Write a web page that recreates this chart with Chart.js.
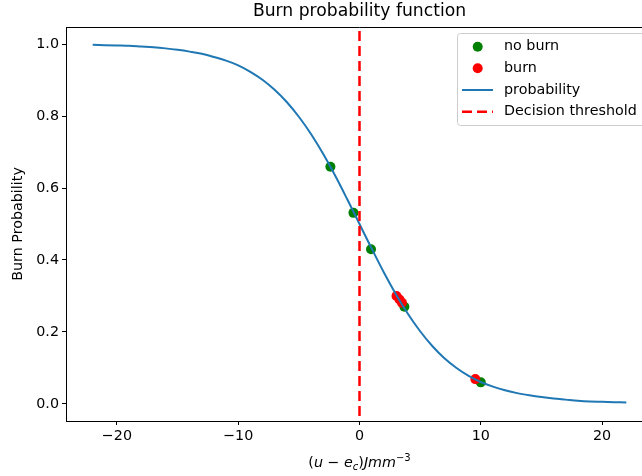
<!DOCTYPE html>
<html>
<head>
<meta charset="utf-8">
<script src="https://cdn.jsdelivr.net/npm/chart.js@4"></script>
<style>
  html, body { margin: 0; padding: 0; background: #fff; overflow: hidden; }
  canvas { display: block; }
</style>
</head>
<body>
<canvas id="burnChart" width="700" height="476"></canvas>
<script>
// values
const curveX = [-22, -21, -20, -19, -18, -17, -16, -15, -14, -13, -12, -11, -10, -9, -8, -7, -6, -5, -4, -3, -2, -1,
                0, 1, 2, 3, 4, 5, 6, 7, 8, 9, 10, 11, 12, 13, 14, 15, 16, 17, 18, 19, 20, 21, 22];
const curveY = [0.998, 0.997, 0.996, 0.995, 0.993, 0.991, 0.988, 0.984, 0.979, 0.973, 0.964, 0.954, 0.941, 0.923,
                0.901, 0.873, 0.839, 0.798, 0.750, 0.695, 0.634, 0.568, 0.500, 0.432, 0.366, 0.305, 0.250, 0.202,
                0.161, 0.127, 0.100, 0.078, 0.061, 0.048, 0.038, 0.030, 0.024, 0.019, 0.015, 0.012, 0.009, 0.007,
                0.006, 0.005, 0.004];

const noBurnX = [-2.4, -0.5, 0.95, 3.7, 10.0];
const noBurnY = [0.659, 0.531, 0.430, 0.270, 0.060];

const burnX = [3.05, 3.3, 3.5, 9.55];
const burnY = [0.300, 0.290, 0.281, 0.069];

const thresholdX = 0;

const xTicks = [-20, -10, 0, 10, 20];
const yTicks = [0.0, 0.2, 0.4, 0.6, 0.8, 1.0];

const FONT = '"DejaVu Sans", sans-serif';
const TICK_SIZE = 14.3;

const toPoints = (xs, ys) => xs.map((x, i) => ({ x: x, y: ys[i] }));

// 제목, 축 제목, 위쪽 테두리, 범례
const decorPlugin = {
    id: 'decor',
    afterDraw(chart) {
        const ctx = chart.ctx;
        const area = chart.chartArea;
        const cx = (area.left + area.right) / 2;

        ctx.save();
        ctx.fillStyle = '#000';

        // top + right spines
        ctx.strokeStyle = '#000';
        ctx.lineWidth = 1;
        ctx.beginPath();
        ctx.moveTo(area.left, area.top + 0.5);
        ctx.lineTo(area.right - 0.5, area.top + 0.5);
        ctx.lineTo(area.right - 0.5, area.bottom);
        ctx.stroke();

        // title
        ctx.font = '17.2px ' + FONT;
        ctx.textAlign = 'center';
        ctx.textBaseline = 'middle';
        ctx.fillText('Burn probability function', cx, 12);

        // y label
        ctx.save();
        ctx.translate(18, (area.top + area.bottom) / 2);
        ctx.rotate(-Math.PI / 2);
        ctx.font = TICK_SIZE + 'px ' + FONT;
        ctx.fillText('Burn Probability', 0, 0);
        ctx.restore();

        // x label, mathtext style
        const big = TICK_SIZE;
        const small = TICK_SIZE * 0.7;
        const parts = [
            { t: '(', it: false, s: big, dy: 0 },
            { t: 'u', it: true, s: big, dy: 0 },
            { t: ' \u2212 ', it: false, s: big, dy: 0 },
            { t: 'e', it: true, s: big, dy: 0 },
            { t: 'c', it: true, s: small, dy: 3 },
            { t: ')', it: false, s: big, dy: 0 },
            { t: 'J', it: true, s: big, dy: 0 },
            { t: 'mm', it: true, s: big, dy: 0 },
            { t: '\u22123', it: false, s: small, dy: -6 }
        ];
        const fontOf = p => (p.it ? 'oblique ' : '') + p.s + 'px ' + FONT;
        let total = 0;
        parts.forEach(p => { ctx.font = fontOf(p); p.w = ctx.measureText(p.t).width; total += p.w; });
        let x = cx - total / 2;
        ctx.textAlign = 'left';
        ctx.textBaseline = 'alphabetic';
        parts.forEach(p => {
            ctx.font = fontOf(p);
            ctx.fillText(p.t, x, 467 + p.dy);
            x += p.w;
        });

        // legend
        const lx = 457, ly = 33, lw = 200, lh = 92;
        ctx.fillStyle = 'rgba(255,255,255,0.8)';
        ctx.strokeStyle = '#cccccc';
        ctx.lineWidth = 1;
        ctx.beginPath();
        ctx.roundRect(lx + 0.5, ly + 0.5, lw, lh, 3);
        ctx.fill();
        ctx.stroke();

        const rows = [46.7, 68.3, 90, 111.7];
        const ds = chart.data.datasets;
        ctx.font = TICK_SIZE + 'px ' + FONT;
        ctx.textBaseline = 'middle';
        ds.forEach((d, i) => {
            const y = rows[i];
            if (d.type === 'scatter') {
                ctx.fillStyle = d.backgroundColor;
                ctx.beginPath();
                ctx.arc(477.7, y, 5, 0, Math.PI * 2);
                ctx.fill();
            } else {
                ctx.strokeStyle = d.borderColor;
                ctx.lineWidth = d.borderWidth;
                ctx.setLineDash(d.borderDash || []);
                ctx.beginPath();
                ctx.moveTo(462, y);
                ctx.lineTo(493, y);
                ctx.stroke();
                ctx.setLineDash([]);
            }
            ctx.fillStyle = '#000';
            ctx.fillText(d.label, 504, y);
        });

        ctx.restore();
    }
};

const chart = new Chart(document.getElementById('burnChart'), {
    type: 'scatter',
    data: {
        datasets: [
            {
                type: 'scatter',
                label: 'no burn',
                data: toPoints(noBurnX, noBurnY),
                backgroundColor: '#008000',
                borderWidth: 0,
                pointRadius: 5,
                order: 3
            },
            {
                type: 'scatter',
                label: 'burn',
                data: toPoints(burnX, burnY),
                backgroundColor: '#ff0000',
                borderWidth: 0,
                pointRadius: 5,
                order: 2
            },
            {
                type: 'line',
                label: 'probability',
                data: toPoints(curveX, curveY),
                borderColor: '#1f77b4',
                borderWidth: 2,
                pointRadius: 0,
                fill: false,
                cubicInterpolationMode: 'monotone',
                order: 1
            },
            {
                type: 'line',
                label: 'Decision threshold',
                data: [{ x: thresholdX, y: -0.2 }, { x: thresholdX, y: 1.2 }],
                borderColor: '#ff0000',
                borderWidth: 2.5,
                borderDash: [10, 5],
                pointRadius: 0,
                fill: false,
                order: 0
            }
        ]
    },
    options: {
        responsive: false,
        animation: false,
        devicePixelRatio: 1,
        layout: { padding: { top: 27, right: 47, left: 0, bottom: 0 } },
        plugins: {
            legend: { display: false },
            tooltip: { enabled: false },
            title: { display: false }
        },
        scales: {
            x: {
                type: 'linear',
                min: -24.2,
                max: 24.2,
                afterBuildTicks: scale => { scale.ticks = xTicks.map(v => ({ value: v })); },
                afterFit: scale => { scale.height = 55; },
                grid: { drawOnChartArea: false, drawTicks: true, tickLength: 4, tickColor: '#000' },
                border: { display: true, color: '#000', width: 1 },
                ticks: {
                    color: '#000',
                    padding: 3,
                    maxRotation: 0,
                    font: { family: FONT, size: TICK_SIZE },
                    callback: v => String(v).replace('-', '\u2212')
                }
            },
            y: {
                type: 'linear',
                min: -0.0474,
                max: 1.0474,
                afterBuildTicks: scale => { scale.ticks = yTicks.map(v => ({ value: v })); },
                afterFit: scale => { scale.width = 66; },
                grid: { drawOnChartArea: false, drawTicks: true, tickLength: 4, tickColor: '#000' },
                border: { display: true, color: '#000', width: 1 },
                ticks: {
                    color: '#000',
                    padding: 3,
                    font: { family: FONT, size: TICK_SIZE },
                    callback: v => v.toFixed(1)
                }
            }
        }
    },
    plugins: [decorPlugin]
});
</script>
</body>
</html>
